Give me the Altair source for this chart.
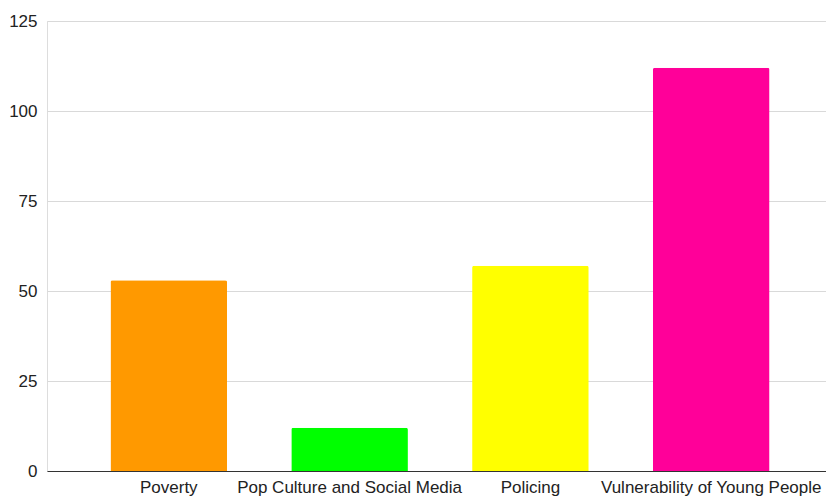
import altair as alt
import pandas as pd

categories = ["Poverty", "Pop Culture and Social Media", "Policing", "Vulnerability of Young People"]
values = [53, 12, 57, 112]
colors = ["#FF9900", "#00FF00", "#FFFF00", "#FF0099"]

df = pd.DataFrame({"category": categories, "value": values})

chart = alt.Chart(df).mark_bar(cornerRadiusTopLeft=2, cornerRadiusTopRight=2).encode(
    x=alt.X("category:N", sort=categories, title=None,
            scale=alt.Scale(paddingInner=0.355, paddingOuter=0.351, range=[0, 786]),
            axis=alt.Axis(labelAngle=0, labelFont="Liberation Sans", labelFontSize=17,
                          labelColor="#222222", domainColor="#333333", domainWidth=1,
                          ticks=False, labelPadding=8, labelLimit=0, grid=False)),
    y=alt.Y("value:Q", title=None,
            scale=alt.Scale(domain=[0, 125], nice=False),
            axis=alt.Axis(values=[0, 25, 50, 75, 100, 125], labelFont="Liberation Sans",
                          labelFontSize=17, labelColor="#222222", domain=False, ticks=False,
                          labelPadding=10, gridColor="#d9d9d9", gridWidth=1)),
    color=alt.Color("category:N", scale=alt.Scale(domain=categories, range=colors), legend=None),
).properties(
    width=779, height=450,
    autosize=alt.AutoSizeParams(type="none"),
    padding={"left": 47, "top": 21, "right": 0, "bottom": 29},
).configure_view(stroke=None).configure(background="white")

chart.save("out.html", embed_options={"renderer": "svg", "actions": False})
